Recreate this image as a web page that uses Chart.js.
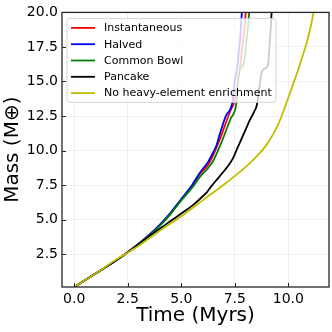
<!DOCTYPE html>
<html><head><meta charset="utf-8">
<script src="https://cdn.jsdelivr.net/npm/chart.js@4.4.0/dist/chart.umd.min.js"></script>
<style>html,body{margin:0;padding:0;background:#fff;}</style>
</head><body>
<canvas id="c" width="332" height="332"></canvas>
<script>
const seriesLabels = ['Instantaneous', 'Halved', 'Common Bowl', 'Pancake', 'No heavy-element enrichment'];
const seriesColors = ['#ff0000', '#0000ff', '#008000', '#000000', '#bfbf00'];

const timeInstantaneous = [0, 1, 2, 2.5, 3, 3.5, 4, 4.5, 5, 5.5, 5.87, 6.26, 6.5, 6.8, 7.08, 7.3, 7.47, 7.7, 7.85, 8.01, 8.06];
const massInstantaneous = [0.13, 1.1, 2.1, 2.65, 3.25, 3.9, 4.6, 5.45, 6.45, 7.4, 8.3, 9.0, 9.7, 10.8, 12.0, 12.9, 13.5, 15.5, 17.5, 20, 22];

const timeHalved = [0, 1, 2, 2.5, 3, 3.5, 4, 4.5, 5, 5.5, 5.87, 6.26, 6.5, 6.65, 6.8, 7.08, 7.39, 7.5, 7.65, 7.83, 7.88];
const massHalved = [0.13, 1.1, 2.1, 2.65, 3.25, 3.9, 4.65, 5.5, 6.5, 7.5, 8.4, 9.2, 9.9, 10.4, 11.2, 12.5, 13.5, 15.0, 16.5, 20, 22];

const timeCommonBowl = [0, 1, 2, 2.5, 3, 3.5, 4, 4.5, 5, 5.5, 5.87, 6.26, 6.49, 6.8, 7.08, 7.3, 7.58, 7.68, 7.9, 8.05, 8.17, 8.22];
const massCommonBowl = [0.13, 1.1, 2.1, 2.65, 3.25, 3.85, 4.55, 5.4, 6.4, 7.3, 8.1, 8.75, 9.25, 10.3, 11.4, 12.3, 13.5, 15.6, 16.2, 18, 20, 22];

const timePancake = [0, 1, 2, 2.5, 3, 3.5, 4, 4.5, 5, 5.5, 5.87, 6.2, 6.42, 6.8, 7.19, 7.4, 7.6, 7.8, 8.0, 8.2, 8.4, 8.53, 8.65, 8.75, 8.86, 9.05, 9.12, 9.22, 9.28];
const massPancake = [0.13, 1.1, 2.1, 2.65, 3.2, 3.8, 4.35, 4.9, 5.45, 6.0, 6.5, 7.0, 7.45, 8.15, 8.9, 9.4, 10.1, 10.8, 11.5, 12.2, 12.8, 13.3, 14.6, 15.6, 15.9, 16.2, 17.5, 20, 22];

const timeNoEnrichment = [0, 1, 2, 2.62, 3, 4, 5, 6, 7, 7.5, 8, 8.5, 9, 9.5, 9.9, 10.2, 10.45, 10.7, 10.91, 11.05, 11.18, 11.33];
const massNoEnrichment = [0.13, 1.1, 2.15, 2.73, 3.1, 4.2, 5.25, 6.4, 7.55, 8.15, 8.8, 9.55, 10.45, 11.8, 13.4, 14.7, 15.8, 17.0, 18.1, 19.0, 20, 21.5];

const xTickValues = [0, 2.5, 5, 7.5, 10];
const xTickLabels = ['0.0', '2.5', '5.0', '7.5', '10.0'];
const yTickValues = [2.5, 5, 7.5, 10, 12.5, 15, 17.5, 20];
const yTickLabels = ['2.5', '5.0', '7.5', '10.0', '12.5', '15.0', '17.5', '20.0'];

const FONT = "'DejaVu Sans', sans-serif";
const allTimes = [timeInstantaneous, timeHalved, timeCommonBowl, timePancake, timeNoEnrichment];
const allMasses = [massInstantaneous, massHalved, massCommonBowl, massPancake, massNoEnrichment];

const datasets = seriesLabels.map((lab, i) => ({
  label: lab,
  data: allTimes[i].map((t, j) => ({x: t, y: allMasses[i][j]})),
  borderColor: seriesColors[i],
  backgroundColor: seriesColors[i],
  borderWidth: 1.8,
  pointRadius: 0,
  cubicInterpolationMode: 'monotone',
  fill: false,
  order: 5 - i
}));

const framePlugin = {
  id: 'frame',
  afterDatasetsDraw(chart) {
    const {ctx, chartArea: a, scales: {x, y}} = chart;
    ctx.save();
    ctx.strokeStyle = '#262626';
    ctx.lineWidth = 1;
    xTickValues.forEach(v => {
      const px = Math.round(x.getPixelForValue(v)) + 0.5;
      ctx.beginPath(); ctx.moveTo(px, a.bottom); ctx.lineTo(px, a.bottom - 4); ctx.stroke();
    });
    yTickValues.forEach(v => {
      const py = Math.round(y.getPixelForValue(v)) + 0.5;
      ctx.beginPath(); ctx.moveTo(a.left, py); ctx.lineTo(a.left + 4, py); ctx.stroke();
    });
    ctx.lineWidth = 1.3;
    ctx.strokeRect(a.left, a.top, a.right - a.left, a.bottom - a.top);
    ctx.restore();
  }
};

const legendPlugin = {
  id: 'insideLegend',
  afterDatasetsDraw(chart) {
    const {ctx, chartArea: a} = chart;
    const left = a.left + 5, top = a.top + 6, w = 209, h = 84;
    ctx.save();
    ctx.beginPath();
    ctx.roundRect(left, top, w, h, 3);
    ctx.fillStyle = 'rgba(255,255,255,0.8)';
    ctx.fill();
    ctx.strokeStyle = 'rgba(204,204,204,0.8)';
    ctx.lineWidth = 1;
    ctx.stroke();
    ctx.font = '11px ' + FONT;
    ctx.textBaseline = 'middle';
    ctx.textAlign = 'left';
    chart.data.datasets.forEach((ds, i) => {
      const cy = top + 9.5 + i * 16.3;
      ctx.strokeStyle = ds.borderColor;
      ctx.lineWidth = 1.8;
      ctx.beginPath(); ctx.moveTo(left + 4, cy); ctx.lineTo(left + 28, cy); ctx.stroke();
      ctx.fillStyle = '#000';
      ctx.fillText(ds.label, left + 37, cy + 0.5);
    });
    ctx.restore();
  }
};

new Chart(document.getElementById('c'), {
  type: 'line',
  data: {datasets},
  options: {
    responsive: false,
    animation: false,
    layout: {padding: {top: 7, right: 3, left: 0, bottom: 0}},
    plugins: {legend: {display: false}, tooltip: {enabled: false}},
    scales: {
      x: {
        type: 'linear', min: -0.57, max: 11.9,
        afterBuildTicks: s => { s.ticks = xTickValues.map(v => ({value: v})); },
        afterFit: s => { s.height = 45; },
        ticks: {callback: (v, i) => xTickLabels[i], padding: 4, color: '#000', maxRotation: 0, autoSkip: false, font: {family: FONT, size: 14}},
        grid: {color: '#ebebeb', lineWidth: 0.8, drawTicks: false},
        border: {display: false},
        title: {display: true, text: 'Time (Myrs)', color: '#000', font: {family: FONT, size: 20}, padding: {top: 0, bottom: 4}}
      },
      y: {
        type: 'linear', min: 0.13, max: 20,
        afterBuildTicks: s => { s.ticks = yTickValues.map(v => ({value: v})); },
        afterFit: s => { s.width = 62; },
        ticks: {callback: (v, i) => yTickLabels[i], padding: 4, color: '#000', autoSkip: false, font: {family: FONT, size: 14}},
        grid: {color: '#ebebeb', lineWidth: 0.8, drawTicks: false},
        border: {display: false},
        title: {display: true, text: 'Mass (M⊕)', color: '#000', font: {family: FONT, size: 20}, padding: {top: 1, bottom: 0}}
      }
    }
  },
  plugins: [framePlugin, legendPlugin]
});
</script>
</body></html>
